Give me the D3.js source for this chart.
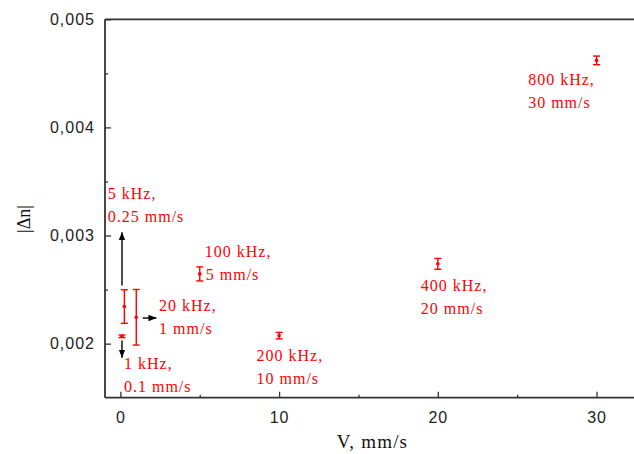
<!DOCTYPE html>
<html>
<head>
<meta charset="utf-8">
<script src="https://cdn.jsdelivr.net/npm/d3@7"></script>
<style>
  html, body { margin: 0; padding: 0; background: #fff; }
  svg { display: block; }
</style>
</head>
<body>
<div id="chart"></div>
<script>
// ---- data ----
const freqLabels = ["1 kHz,", "5 kHz,", "20 kHz,", "100 kHz,", "200 kHz,", "400 kHz,", "800 kHz,"];
const speedLabels = ["0.1 mm/s", "0.25 mm/s", "1 mm/s", "5 mm/s", "10 mm/s", "20 mm/s", "30 mm/s"];
const speeds = [0.1, 0.25, 1, 5, 10, 20, 30];
const dn = [0.002068, 0.002343, 0.002244, 0.002645, 0.002074, 0.002738, 0.00462];
const dnErr = [0.000012, 0.000155, 0.000257, 0.000065, 0.00003, 0.00005, 0.00004];

// black arrows: start/end in data units
const arrowsX0 = [0.1, 0.1, 1.4];
const arrowsY0 = [0.002537, 0.002028, 0.002237];
const arrowsX1 = [0.1, 0.1, 2.27];
const arrowsY1 = [0.003031, 0.00187, 0.002237];

const xTicks = [0, 10, 20, 30];
const xMinor = [5, 15, 25];
const yTicks = [0.002, 0.003, 0.004, 0.005];
const yMinor = [0.0025, 0.0035, 0.0045];
const yTickLabels = ["0,002", "0,003", "0,004", "0,005"];
const xTitle = "V, mm/s";
const yTitle = "|\u0394n|";

// ---- layout ----
const W = 634, H = 454;
const mLeft = 105, mRight = 634, mTop = 19.3, mBottom = 397.7;
// label offsets (px) relative to the point for the first line
const labelOffsets = [[2, 32.6], [-16.6, -107.7], [22.8, -6], [5, -17.3], [-22.6, 25], [-17, 26.7], [-68.4, 25]];
const lineGap = 23;

const svg = d3.select("#chart").append("svg").attr("width", W).attr("height", H);

const x = d3.scaleLinear().domain([-0.97, 32.36]).range([mLeft, mRight]);
const y = d3.scaleLinear().domain([0.0015, 0.005]).range([mBottom, mTop]);

const axisColor = "#333";
const red = "#ff0000";

// axes (ticks inward)
const xAxis = svg.append("g").attr("transform", `translate(0,${mBottom})`)
  .call(d3.axisBottom(x).tickValues(xTicks).tickSize(-6).tickPadding(14).tickFormat(d3.format("d")));
const xAxisMinor = svg.append("g").attr("transform", `translate(0,${mBottom})`)
  .call(d3.axisBottom(x).tickValues(xMinor).tickSize(-3).tickFormat(""));
const yAxis = svg.append("g").attr("transform", `translate(${mLeft},0)`)
  .call(d3.axisLeft(y).tickValues(yTicks).tickSize(-6).tickPadding(10).tickFormat((d, i) => yTickLabels[i]));
const yAxisMinor = svg.append("g").attr("transform", `translate(${mLeft},0)`)
  .call(d3.axisLeft(y).tickValues(yMinor).tickSize(-3).tickFormat(""));

[xAxis, xAxisMinor, yAxis, yAxisMinor].forEach(g => {
  g.select(".domain").attr("stroke", axisColor).attr("stroke-width", 1.8);
  g.selectAll(".tick line").attr("stroke", axisColor).attr("stroke-width", 1.3);
  g.selectAll(".tick text").attr("fill", "#222")
    .style("font-family", "'Liberation Sans', Arial, sans-serif")
    .style("font-size", "16px").style("letter-spacing", "1px");
});
xAxis.select(".domain").attr("d", `M${mLeft},0H${mRight}`);
xAxisMinor.select(".domain").remove();
yAxisMinor.select(".domain").remove();
yAxis.select(".domain").attr("d", `M0,${mBottom}V${mTop}`);

// top border
svg.append("line").attr("x1", mLeft).attr("x2", mRight).attr("y1", mTop).attr("y2", mTop)
  .attr("stroke", axisColor).attr("stroke-width", 1.8);

// axis titles
svg.append("text").attr("x", 372.5).attr("y", 448).attr("text-anchor", "middle")
  .style("font-family", "'Liberation Serif', 'Times New Roman', serif")
  .style("font-size", "19px").style("letter-spacing", "1.2px").attr("fill", "#111").text(xTitle);
svg.append("text").attr("transform", "translate(30,219) rotate(-90)").attr("text-anchor", "middle")
  .style("font-family", "'Liberation Serif', 'Times New Roman', serif")
  .style("font-size", "18px").attr("fill", "#111").text(yTitle);

// arrows
const defs = svg.append("defs");
defs.append("marker").attr("id", "ah").attr("viewBox", "0 0 10 10").attr("refX", 10).attr("refY", 5)
  .attr("markerWidth", 8).attr("markerHeight", 8).attr("markerUnits", "userSpaceOnUse").attr("orient", "auto")
  .append("path").attr("d", "M0,1 L10,5 L0,9 Z").attr("fill", "#000");

const arrowIdx = d3.range(arrowsX0.length);
svg.append("g").selectAll("line").data(arrowIdx).join("line")
  .attr("x1", i => x(arrowsX0[i])).attr("y1", i => y(arrowsY0[i]))
  .attr("x2", i => x(arrowsX1[i])).attr("y2", i => y(arrowsY1[i]))
  .attr("stroke", "#000").attr("stroke-width", 1.4).attr("marker-end", "url(#ah)");

// error bars
const idx = d3.range(speeds.length);
const cap = 3.5;
const eb = svg.append("g").attr("stroke", red).attr("stroke-width", 1.4).attr("fill", "none");
eb.selectAll("line.v").data(idx).join("line").attr("class", "v")
  .attr("x1", i => x(speeds[i])).attr("x2", i => x(speeds[i]))
  .attr("y1", i => y(dn[i] - dnErr[i])).attr("y2", i => y(dn[i] + dnErr[i]));
eb.selectAll("line.t").data(idx).join("line").attr("class", "t")
  .attr("x1", i => x(speeds[i]) - cap).attr("x2", i => x(speeds[i]) + cap)
  .attr("y1", i => y(dn[i] + dnErr[i])).attr("y2", i => y(dn[i] + dnErr[i]));
eb.selectAll("line.b").data(idx).join("line").attr("class", "b")
  .attr("x1", i => x(speeds[i]) - cap).attr("x2", i => x(speeds[i]) + cap)
  .attr("y1", i => y(dn[i] - dnErr[i])).attr("y2", i => y(dn[i] - dnErr[i]));

svg.append("g").selectAll("circle").data(idx).join("circle")
  .attr("cx", i => x(speeds[i])).attr("cy", i => y(dn[i])).attr("r", 1.8).attr("fill", red);

// labels
const lab = svg.append("g").attr("fill", red)
  .style("font-family", "'Liberation Serif', 'Times New Roman', serif")
  .style("font-size", "16px").style("letter-spacing", "1px");
idx.forEach(i => {
  const px = x(speeds[i]) + labelOffsets[i][0];
  const py = y(dn[i]) + labelOffsets[i][1];
  lab.append("text").attr("x", px).attr("y", py).text(freqLabels[i]);
  lab.append("text").attr("x", px + (i === 3 ? 1 : 0)).attr("y", py + lineGap).text(speedLabels[i]);
});
</script>
</body>
</html>
